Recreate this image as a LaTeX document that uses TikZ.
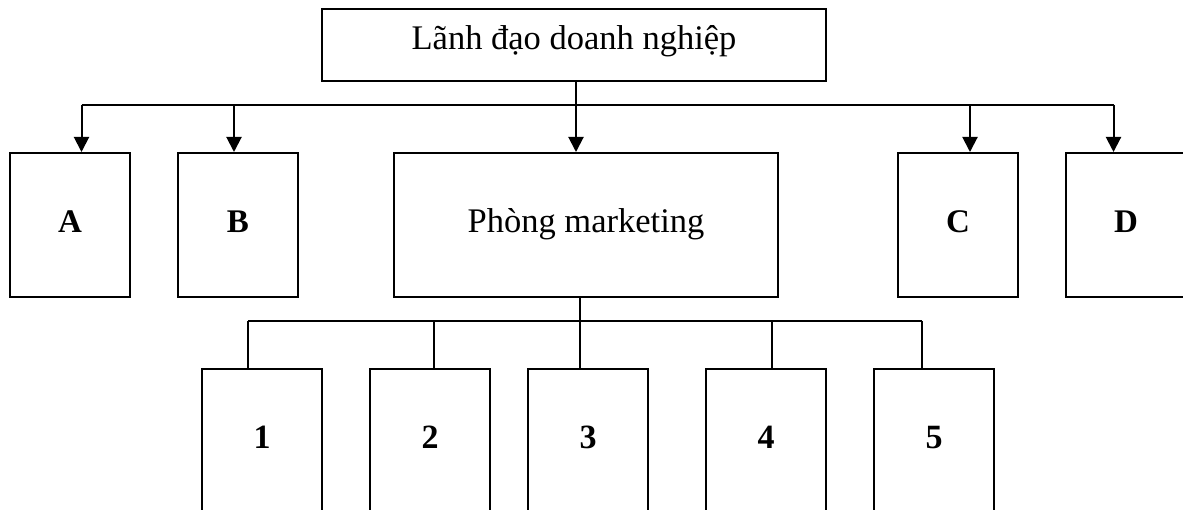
\documentclass[tikz,border=0pt]{standalone}
\usepackage{fontspec}
\setmainfont{Liberation Serif}
\usetikzlibrary{arrows.meta}
\begin{document}
\begin{tikzpicture}[x=1pt,y=-1pt,
  box/.style={draw,line width=2pt,inner sep=0pt},
  leadbox/.style={box,minimum width=504pt,minimum height=72pt,
    font=\fontsize{34.5}{34.5}\selectfont,text height=22pt,text depth=12pt},
  deptbox/.style={box,minimum width=384pt,minimum height=144pt,
    font=\fontsize{34.5}{34.5}\selectfont,text height=22pt,text depth=6pt},
  unitbox/.style={box,minimum width=120pt,minimum height=144pt,
    font=\fontsize{33}{33}\selectfont\bfseries,text height=20pt,text depth=4pt},
  subbox/.style={box,minimum width=120pt,minimum height=150pt,
    font=\fontsize{34}{34}\selectfont\bfseries,text height=23pt,text depth=15pt},
  conn/.style={line width=2pt},
  arr/.style={conn,-{Triangle[width=15pt,length=15pt]}}
]
\useasboundingbox (0,0) rectangle (1183,510);
\clip (0,0) rectangle (1183,510);

% nodes
\node[leadbox] (top) at (574,45) {Lãnh đạo doanh nghiệp};
\node[unitbox] (A) at (70,225) {A};
\node[unitbox] (B) at (238,225) {B};
\node[deptbox] (pm) at (586,225) {Phòng marketing};
\node[unitbox] (C) at (958,225) {C};
\node[unitbox] (D) at (1126,225) {D};
\node[subbox] (s1) at (262,444) {1};
\node[subbox] (s2) at (430,444) {2};
\node[subbox] (s3) at (588,444) {3};
\node[subbox] (s4) at (766,444) {4};
\node[subbox] (s5) at (934,444) {5};

% upper bus
\coordinate (uA) at (81.5,105);
\coordinate (uB) at (234,105);
\coordinate (uM) at (576,105);
\coordinate (uC) at (970,105);
\coordinate (uD) at (1113.5,105);
\draw[conn] (top.south -| uM) -- (uM);
\draw[conn] (uA) -- (uD);
\draw[arr] (uA) -- (uA |- A.north);
\draw[arr] (uB) -- (uB |- B.north);
\draw[arr] (uM) -- (uM |- pm.north);
\draw[arr] (uC) -- (uC |- C.north);
\draw[arr] (uD) -- (uD |- D.north);

% lower bus
\coordinate (l1) at (248,321);
\coordinate (l2) at (434,321);
\coordinate (l3) at (580,321);
\coordinate (l4) at (772,321);
\coordinate (l5) at (922,321);
\draw[conn] (pm.south -| l3) -- (l3);
\draw[conn] (l1) -- (l5);
\draw[conn] (l1) -- (l1 |- s1.north);
\draw[conn] (l2) -- (l2 |- s2.north);
\draw[conn] (l3) -- (l3 |- s3.north);
\draw[conn] (l4) -- (l4 |- s4.north);
\draw[conn] (l5) -- (l5 |- s5.north);
\end{tikzpicture}
\end{document}
